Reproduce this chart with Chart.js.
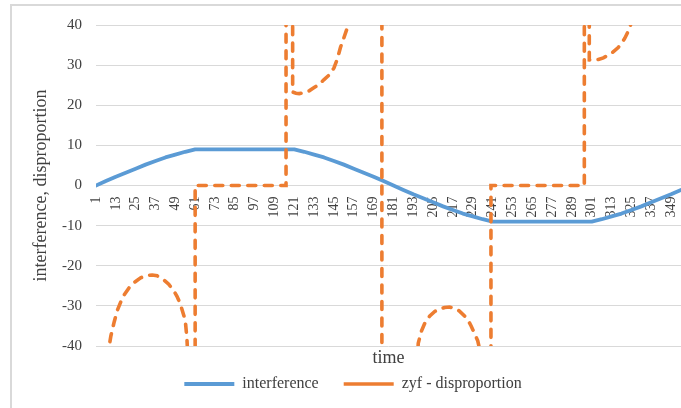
<!DOCTYPE html>
<html><head><meta charset="utf-8">
<script src="https://cdn.jsdelivr.net/npm/chart.js@4.4.1/dist/chart.umd.min.js"></script>
<style>
html,body{margin:0;padding:0;width:681px;height:408px;overflow:hidden;background:#fff;}
#frame{position:absolute;left:10px;top:4px;width:720px;height:420px;border:2px solid #d9d9d9;box-sizing:border-box;}
#c{position:absolute;left:0;top:0;}
</style></head><body>
<div id="frame"></div>
<canvas id="c" width="700" height="408"></canvas>
<script>
const seriesNames = ['interference', 'zyf - disproportion'];
const tickLabels = [1,13,25,37,49,61,73,85,97,109,121,133,145,157,169,181,193,205,217,229,241,253,265,277,289,301,313,325,337,349];

const interfT = [1,7,13,19,25,31,37,43,49,55,61,121,127,133,139,145,151,157,163,169,175,181,187,193,199,205,211,217,223,229,235,241,301,307,313,319,325,331,337,343,349,355];
const interfV = [0,1.1,2.2,3.2,4.2,5.2,6.1,7.0,7.7,8.4,9,9,8.4,7.7,7.0,6.1,5.2,4.2,3.2,2.2,1.1,0,-1.1,-2.2,-3.2,-4.2,-5.2,-6.1,-7.0,-7.7,-8.4,-9,-9,-8.4,-7.7,-7.0,-6.1,-5.2,-4.2,-3.2,-2.2,-1.1];

const dispT = [6,9,10,12,14,16,18,21,24,28,32,35,38,42,45,48,50,52,54,55,56,57,58,
  61,61,116,116,120,120,
  122,124,127,130,133,136,139,142,145,147,149,151,153,155,157,160,165,174,174,
  193,194,196,198,200,203,206,209,212,215,218,221,224,226,228,230,232,233,234,235,
  240,240,296.5,296.5,299.5,299.5,
  302,305,308,311,314,317,319,321,323,325,327,330,334,340,355];
const dispV = [-80,-40,-37.5,-34,-31,-29,-27.3,-25.5,-24.2,-23,-22.4,-22.3,-22.5,-23.5,-24.6,-26.2,-27.6,-29.5,-32.2,-33.5,-38,-46,-80,
  -80,0,0,80,80,23.3,
  23.0,22.9,23.1,23.6,24.4,25.2,26.4,27.5,29.3,31.5,34.5,36.8,39.2,42.5,48,60,80,80,-80,
  -80,-55,-39.3,-36.2,-34.3,-32.5,-31.4,-30.8,-30.4,-30.3,-30.6,-31.3,-32.5,-33.5,-35,-36.8,-38.7,-40.5,-45,-80,
  -80,0,0,80,80,31.3,
  31.2,31.4,31.8,32.5,33.3,34.4,35.4,36.7,38.4,40.6,43.5,50,65,80,80];

const interference = interfT.map((t, i) => ({x: t, y: interfV[i]}));
const disproportion = dispT.map((t, i) => ({x: t, y: dispV[i]}));

const FONT = 'Liberation Serif';
const TXT = '#404040';
Chart.defaults.font.family = FONT;
Chart.defaults.color = TXT;

new Chart(document.getElementById('c'), {
  type: 'line',
  data: {
    datasets: [
      {label: seriesNames[0], data: interference, xAxisID: 'x', yAxisID: 'y',
       borderColor: '#5B9BD5', backgroundColor: '#5B9BD5', borderWidth: 3.8,
       pointRadius: 0, tension: 0, order: 1, clip: 0, borderCapStyle: 'round', borderJoinStyle: 'round'},
      {label: seriesNames[1], data: disproportion, xAxisID: 'x', yAxisID: 'y',
       borderColor: '#ED7D31', backgroundColor: '#ED7D31', borderWidth: 3.6,
       borderDash: [8, 8.5], borderCapStyle: 'round',
       pointRadius: 0, tension: 0, order: 0, clip: 0}
    ]
  },
  options: {
    responsive: false,
    animation: false,
    layout: {padding: {left: 25, right: 19, top: 25, bottom: 6}},
    scales: {
      x: {
        type: 'linear', min: 1, max: 355, position: {y: 0},
        grid: {display: false}, border: {display: false},
        afterBuildTicks: s => { s.ticks = tickLabels.map(v => ({value: v})); },
        ticks: {autoSkip: false, minRotation: 90, maxRotation: 90, padding: 3,
                color: TXT, font: {family: FONT, size: 14}}
      },
      xTitle: {
        type: 'linear', position: 'bottom', display: true,
        grid: {display: false, drawTicks: false, tickLength: 0}, border: {display: false},
        ticks: {display: false},
        title: {display: true, text: 'time', color: TXT, font: {family: FONT, size: 18},
                padding: {top: 1.2, bottom: -17.8}}
      },
      y: {
        min: -40, max: 40,
        ticks: {stepSize: 10, padding: 14, color: TXT, font: {family: FONT, size: 15}},
        grid: {color: '#d9d9d9', lineWidth: 1, drawTicks: false},
        border: {display: false},
        title: {display: true, text: 'interference, disproportion', color: TXT,
                font: {family: FONT, size: 18}, padding: {top: 5, bottom: 0}},
        afterFit: s => { s.width = 71; }
      }
    },
    plugins: {
      legend: {
        position: 'bottom',
        labels: {usePointStyle: true, pointStyle: 'line', pointStyleWidth: 50, padding: 25,
                 color: TXT, font: {family: FONT, size: 16},
                 sort: (a, b) => a.datasetIndex - b.datasetIndex}
      },
      tooltip: {enabled: false}
    }
  }
});
</script>
</body></html>
